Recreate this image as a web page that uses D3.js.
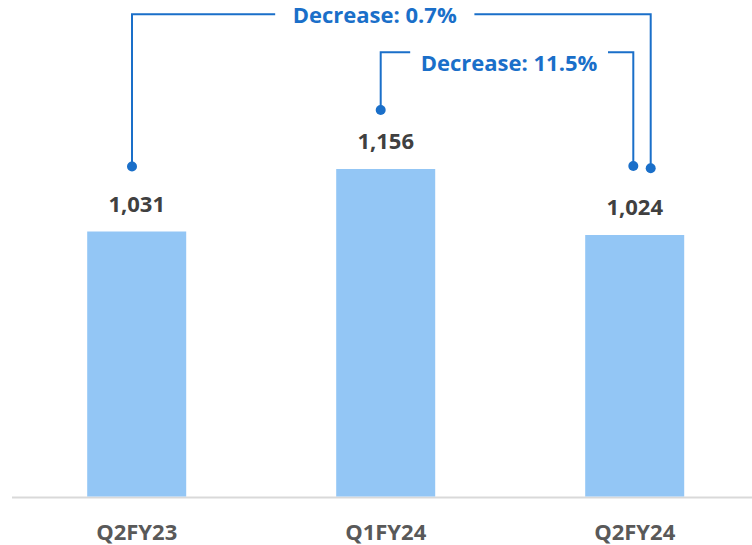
<!DOCTYPE html>
<html>
<head>
<meta charset="utf-8">
<script src="https://cdn.jsdelivr.net/npm/d3@7"></script>
<style>
  html, body { margin: 0; padding: 0; background: #ffffff; }
  svg { display: block; }
  text { font-family: "Open Sans", "Noto Sans", sans-serif; font-weight: 700; }
</style>
</head>
<body>
<svg id="chart" width="752" height="545"></svg>
<script>
const categories = ["Q2FY23", "Q1FY24", "Q2FY24"];
const values = [1031, 1156, 1024];
const annotationLabels = ["Decrease: 0.7%", "Decrease: 11.5%"];
const annotationFrom = [0, 1];
const annotationTo = [2, 2];

const W = 752, H = 545;
const svg = d3.select("#chart");

const x = d3.scaleBand()
  .domain(categories)
  .range([12.2, 759.2])
  .paddingInner(0.6024)
  .paddingOuter(0.3012);

const y = d3.scaleLinear().domain([500, 1400]).range([497, 47]);

const blue = "#1A6FC9";
const FS = 22;

// axis line
svg.append("line")
  .attr("x1", 12).attr("x2", W)
  .attr("y1", 497.5).attr("y2", 497.5)
  .attr("stroke", "#d9d9d9").attr("stroke-width", 2);

// bars
svg.selectAll("rect.bar")
  .data(values)
  .join("rect")
  .attr("class", "bar")
  .attr("x", (d, i) => x(categories[i]))
  .attr("width", x.bandwidth())
  .attr("y", d => y(d))
  .attr("height", d => y(500) - y(d) - 0.5)
  .attr("fill", "#93C6F5");

// value labels
svg.selectAll("text.val")
  .data(values)
  .join("text")
  .attr("class", "val")
  .attr("x", (d, i) => x(categories[i]) + x.bandwidth() / 2)
  .attr("y", d => y(d) - 20)
  .attr("text-anchor", "middle")
  .attr("font-size", FS)
  .attr("fill", "#404040")
  .text(d => d3.format(",")(d));

// category labels
svg.selectAll("text.cat")
  .data(categories)
  .join("text")
  .attr("class", "cat")
  .attr("x", d => x(d) + x.bandwidth() / 2)
  .attr("y", 539.5)
  .attr("text-anchor", "middle")
  .attr("font-size", FS)
  .attr("fill", "#595959")
  .text(d => d);

// annotations (layout styling)
const annLayout = [
  { lineY: 14.3, textY: 22.7, textX: 374.7, fromDx: -4.7, toDx: 16, fromDotUp: 65, toDotUp: 66.7, gap: 17.5 },
  { lineY: 52.3, textY: 70.7, textX: 509, fromDx: -5, toDx: -1.4, fromDotUp: 59, toDotUp: 69, gap: 10.5 }
];

annotationLabels.forEach((lab, k) => {
  const L = annLayout[k];
  const i0 = annotationFrom[k], i1 = annotationTo[k];
  const xa = x(categories[i0]) + x.bandwidth() / 2 + L.fromDx;
  const xb = x(categories[i1]) + x.bandwidth() / 2 + L.toDx;
  const ya = y(values[i0]) - L.fromDotUp;
  const yb = y(values[i1]) - L.toDotUp;
  const g = svg.append("g");
  const t = g.append("text")
    .attr("x", L.textX)
    .attr("y", L.textY)
    .attr("text-anchor", "middle")
    .attr("font-size", FS)
    .attr("fill", blue)
    .text(lab);
  const bb = t.node().getBBox();
  const tl = bb.x - L.gap, tr = bb.x + bb.width + L.gap;
  g.append("path")
    .attr("d", `M${xa},${ya} V${L.lineY} H${tl}`)
    .attr("fill", "none").attr("stroke", blue).attr("stroke-width", 2);
  g.append("path")
    .attr("d", `M${tr},${L.lineY} H${xb} V${yb}`)
    .attr("fill", "none").attr("stroke", blue).attr("stroke-width", 2);
  g.append("circle").attr("cx", xa).attr("cy", ya).attr("r", 5).attr("fill", blue);
  g.append("circle").attr("cx", xb).attr("cy", yb).attr("r", 5).attr("fill", blue);
});
</script>
</body>
</html>
